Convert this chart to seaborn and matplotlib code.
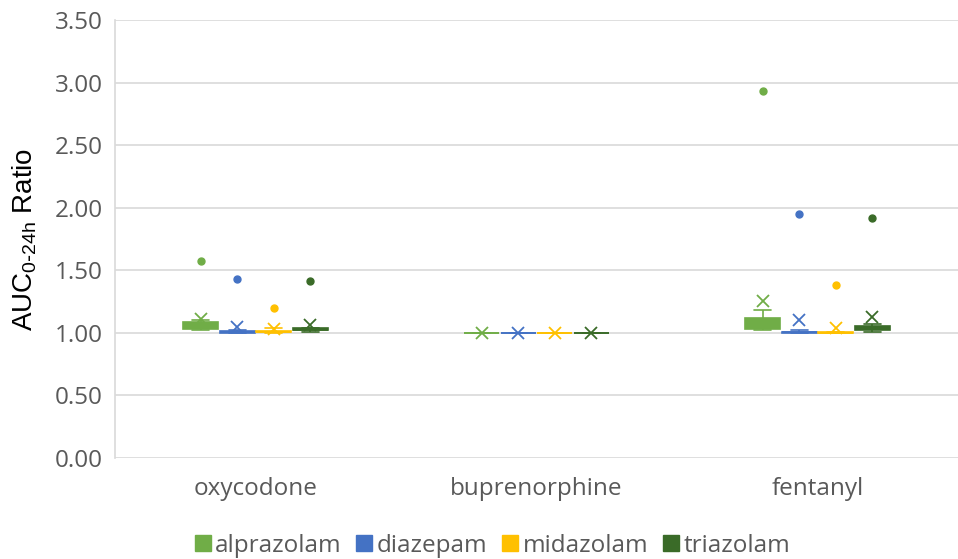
import numpy as np
import pandas as pd
import seaborn as sns
import matplotlib.pyplot as plt
from matplotlib.lines import Line2D

opioids = ["oxycodone", "buprenorphine", "fentanyl"]
benzos = ["alprazolam", "diazepam", "midazolam", "triazolam"]
colors = ["#70AD47", "#4472C4", "#FFC000", "#3A6B28"]
yticks = [0.0, 0.5, 1.0, 1.5, 2.0, 2.5, 3.0, 3.5]

# AUC ratios per subject
oxy_alprazolam = [1.02, 1.03, 1.03, 1.04, 1.05, 1.06, 1.08, 1.09, 1.10, 1.57]
oxy_diazepam = [1.00, 1.00, 1.00, 1.00, 1.01, 1.01, 1.01, 1.02, 1.02, 1.43]
oxy_midazolam = [1.00, 1.00, 1.00, 1.01, 1.01, 1.01, 1.01, 1.02, 1.04, 1.20]
oxy_triazolam = [1.01, 1.01, 1.02, 1.02, 1.02, 1.03, 1.03, 1.04, 1.04, 1.41]

bup_alprazolam = [1.00, 1.00, 1.00, 1.00, 1.00, 1.00, 1.00, 1.00, 1.00, 1.00]
bup_diazepam = [1.00, 1.00, 1.00, 1.00, 1.00, 1.00, 1.00, 1.00, 1.00, 1.00]
bup_midazolam = [1.00, 1.00, 1.00, 1.00, 1.00, 1.00, 1.00, 1.00, 1.00, 1.00]
bup_triazolam = [1.00, 1.00, 1.00, 1.00, 1.00, 1.00, 1.00, 1.00, 1.00, 1.00]

fen_alprazolam = [1.02, 1.03, 1.03, 1.04, 1.05, 1.06, 1.10, 1.12, 1.18, 2.93]
fen_diazepam = [1.00, 1.00, 1.00, 1.00, 1.00, 1.01, 1.01, 1.01, 1.02, 1.95]
fen_midazolam = [1.00, 1.00, 1.00, 1.00, 1.00, 1.00, 1.00, 1.01, 1.01, 1.38]
fen_triazolam = [1.01, 1.02, 1.02, 1.03, 1.03, 1.04, 1.05, 1.06, 1.07, 1.92]

groups = {
    "oxycodone": [oxy_alprazolam, oxy_diazepam, oxy_midazolam, oxy_triazolam],
    "buprenorphine": [bup_alprazolam, bup_diazepam, bup_midazolam, bup_triazolam],
    "fentanyl": [fen_alprazolam, fen_diazepam, fen_midazolam, fen_triazolam],
}
rows = []
for op in opioids:
    for bz, vals in zip(benzos, groups[op]):
        for v in vals:
            rows.append({"opioid": op, "benzo": bz, "ratio": v})
df = pd.DataFrame(rows)

sns.set_style("white")
plt.rcParams["font.family"] = ["Open Sans", "DejaVu Sans"]

fig = plt.figure(figsize=(9.58, 5.59), dpi=100)
ax = fig.add_axes([0.12, 0.181, 0.88, 0.783])

sns.boxplot(data=df, x="opioid", y="ratio", hue="benzo", order=opioids,
            hue_order=benzos, palette=colors, width=0.52, gap=0.05,
            whis=1.5, showmeans=True, linewidth=1.2, saturation=1,
            meanprops=dict(marker="x", markersize=9, markeredgewidth=1.3),
            flierprops=dict(marker="o", markersize=5), legend=False, ax=ax)

for cont, c in zip(ax.containers, colors):
    for b in cont.boxes:
        b.set_edgecolor(c)
        b.set_facecolor(c)
        b.set_alpha(None)
    for ln in list(cont.whiskers) + list(cont.caps):
        ln.set_color(c)
    for ln in cont.medians:
        ln.set_color(c)
    for ln in cont.fliers:
        ln.set_markerfacecolor(c)
        ln.set_markeredgecolor(c)
    for ln in cont.means:
        ln.set_markerfacecolor(c)
        ln.set_markeredgecolor(c)
        ln.set_color(c)

ax.set_ylim(0, 3.5)
ax.set_yticks(yticks)
ax.set_yticklabels([f"{t:.2f}" for t in yticks])
ax.set_xlim(-0.5, 2.5)
ax.yaxis.grid(True, color="#D9D9D9", linewidth=1.2)
ax.set_axisbelow(True)
for s in ["top", "right", "bottom"]:
    ax.spines[s].set_visible(False)
ax.spines["left"].set_color("#D9D9D9")
ax.spines["left"].set_linewidth(1.2)
ax.tick_params(axis="both", length=0, labelsize=17.5, colors="#595959")
ax.tick_params(axis="y", pad=9)
ax.tick_params(axis="x", pad=14)
ax.set_xlabel("")
ax.set_ylabel(r"AUC$_{\mathregular{0\text{-}24h}}$ Ratio", fontsize=20,
              color="black", family="Liberation Sans", labelpad=11)

handles = [Line2D([], [], marker="s", linestyle="none", markersize=11,
                  markerfacecolor=c, markeredgecolor=c) for c in colors]
fig.legend(handles, benzos, loc="center", bbox_to_anchor=(0.513, 0.024),
           ncol=4, frameon=False, fontsize=17.5, handletextpad=0.1,
           columnspacing=0.55, labelcolor="#595959", handlelength=0.8)

fig.savefig("out.png", dpi=100)
